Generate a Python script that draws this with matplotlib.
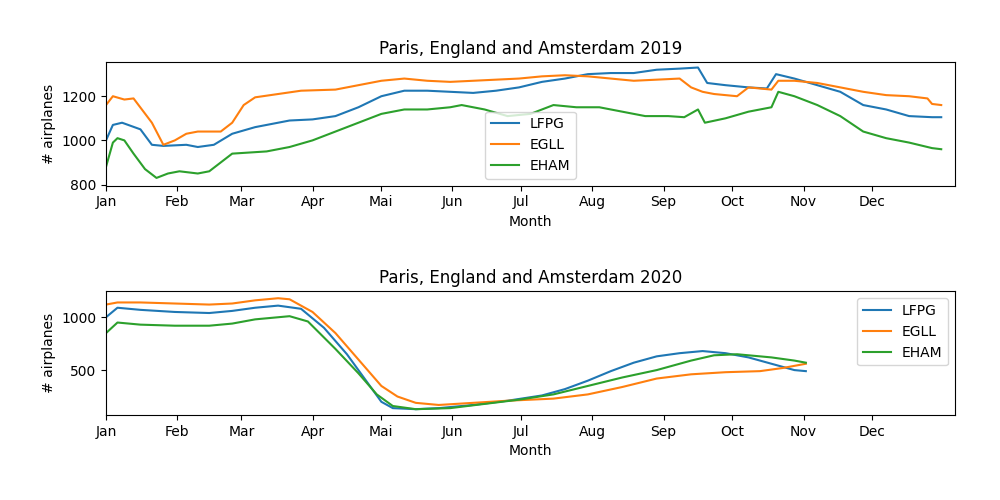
import matplotlib

matplotlib.use("Agg")
import matplotlib.pyplot as plt

# Day-of-year sample points
days_2019_lfpg = [0, 3, 7, 15, 20, 25, 35, 40, 47, 55, 65, 80, 90, 100, 110, 120, 130, 140, 150, 160, 170, 180,
                  190, 200, 210, 220, 230, 240, 250, 258, 262, 270, 280, 288, 292, 300, 310, 320, 330, 340, 350, 360, 364]
lfpg_2019 = [1000, 1070, 1080, 1050, 980, 975, 980, 970, 980, 1030, 1060, 1090, 1095, 1110, 1150, 1200, 1225, 1225,
             1220, 1215, 1225, 1240, 1265, 1280, 1300, 1305, 1305, 1320, 1325, 1330, 1260, 1250, 1240, 1235, 1300,
             1280, 1250, 1220, 1160, 1140, 1110, 1105, 1105]
days_2019_egll = [0, 3, 8, 12, 20, 25, 30, 35, 40, 50, 55, 60, 65, 75, 85, 100, 110, 120, 130, 140, 150, 160, 170,
                  180, 190, 200, 210, 220, 230, 240, 250, 255, 260, 265, 275, 280, 290, 293, 300, 310, 320, 330, 340,
                  350, 358, 360, 364]
egll_2019 = [1160, 1200, 1185, 1190, 1080, 980, 1000, 1030, 1040, 1040, 1080, 1160, 1195, 1210, 1225, 1230, 1250,
             1270, 1280, 1270, 1265, 1270, 1275, 1280, 1290, 1295, 1290, 1280, 1270, 1275, 1280, 1240, 1220, 1210,
             1200, 1240, 1230, 1270, 1270, 1260, 1240, 1220, 1205, 1200, 1190, 1165, 1160]
days_2019_eham = [0, 3, 5, 8, 12, 17, 22, 27, 32, 40, 45, 50, 55, 70, 80, 90, 100, 110, 120, 130, 140, 150, 155,
                  165, 175, 185, 195, 205, 215, 225, 235, 245, 252, 258, 261, 270, 280, 290, 293, 300, 310, 320,
                  330, 340, 350, 360, 364]
eham_2019 = [880, 990, 1010, 1000, 940, 870, 830, 850, 860, 850, 860, 900, 940, 950, 970, 1000, 1040, 1080, 1120,
             1140, 1140, 1150, 1160, 1140, 1110, 1120, 1160, 1150, 1150, 1130, 1110, 1110, 1105, 1140, 1080, 1100,
             1130, 1150, 1220, 1200, 1160, 1110, 1040, 1010, 990, 965, 960]

days_2020_lfpg = [0, 5, 15, 30, 45, 55, 65, 75, 85, 95, 105, 115, 120, 125, 135, 145, 160, 175, 190, 200, 210, 220,
                  230, 240, 250, 260, 270, 280, 290, 300, 305]
lfpg_2020 = [1000, 1090, 1070, 1050, 1040, 1060, 1090, 1110, 1080, 900, 650, 350, 200, 140, 130, 140, 170, 210,
             260, 320, 400, 490, 570, 630, 660, 680, 660, 620, 560, 500, 490]
days_2020_egll = [0, 5, 15, 30, 45, 55, 65, 75, 80, 90, 100, 110, 120, 127, 135, 145, 160, 175, 185, 195, 210, 225,
                  240, 255, 270, 285, 295, 305]
egll_2020 = [1120, 1140, 1140, 1130, 1120, 1130, 1160, 1180, 1170, 1050, 850, 600, 350, 250, 190, 170, 190, 210,
             220, 230, 270, 340, 420, 460, 480, 490, 520, 560]
days_2020_eham = [0, 5, 15, 30, 45, 55, 65, 75, 80, 88, 100, 110, 118, 125, 135, 150, 165, 180, 195, 210, 225, 240,
                  255, 265, 275, 290, 300, 305]
eham_2020 = [850, 950, 930, 920, 920, 940, 980, 1000, 1010, 960, 700, 470, 270, 160, 130, 140, 180, 220, 270, 350,
             430, 500, 590, 640, 650, 620, 590, 570]

month_starts = [0, 31, 59, 90, 120, 151, 181, 212, 243, 273, 304, 334]
month_labels = ["Jan", "Feb", "Mar", "Apr", "Mai", "Jun", "Jul", "Aug", "Sep", "Oct", "Nov", "Dec"]

fig, (ax1, ax2) = plt.subplots(2, 1, figsize=(10, 5))
fig.subplots_adjust(left=0.106, right=0.955, top=0.876, bottom=0.17, hspace=0.855)

ax1.plot(days_2019_lfpg, lfpg_2019, label="LFPG")
ax1.plot(days_2019_egll, egll_2019, label="EGLL")
ax1.plot(days_2019_eham, eham_2019, label="EHAM")
ax1.set_ylim(795, 1355)
ax1.set_title("Paris, England and Amsterdam 2019")
ax1.legend(loc="lower center")

ax2.plot(days_2020_lfpg, lfpg_2020, label="LFPG")
ax2.plot(days_2020_egll, egll_2020, label="EGLL")
ax2.plot(days_2020_eham, eham_2020, label="EHAM")
ax2.set_ylim(75, 1245)
ax2.set_title("Paris, England and Amsterdam 2020")
ax2.legend(loc="upper right")

for ax in (ax1, ax2):
    ax.set_xlim(0, 370)
    ax.set_xticks(month_starts)
    ax.set_xticklabels(month_labels)
    ax.set_xlabel("Month")
    ax.set_ylabel("# airplanes")

fig.savefig("out.png")
